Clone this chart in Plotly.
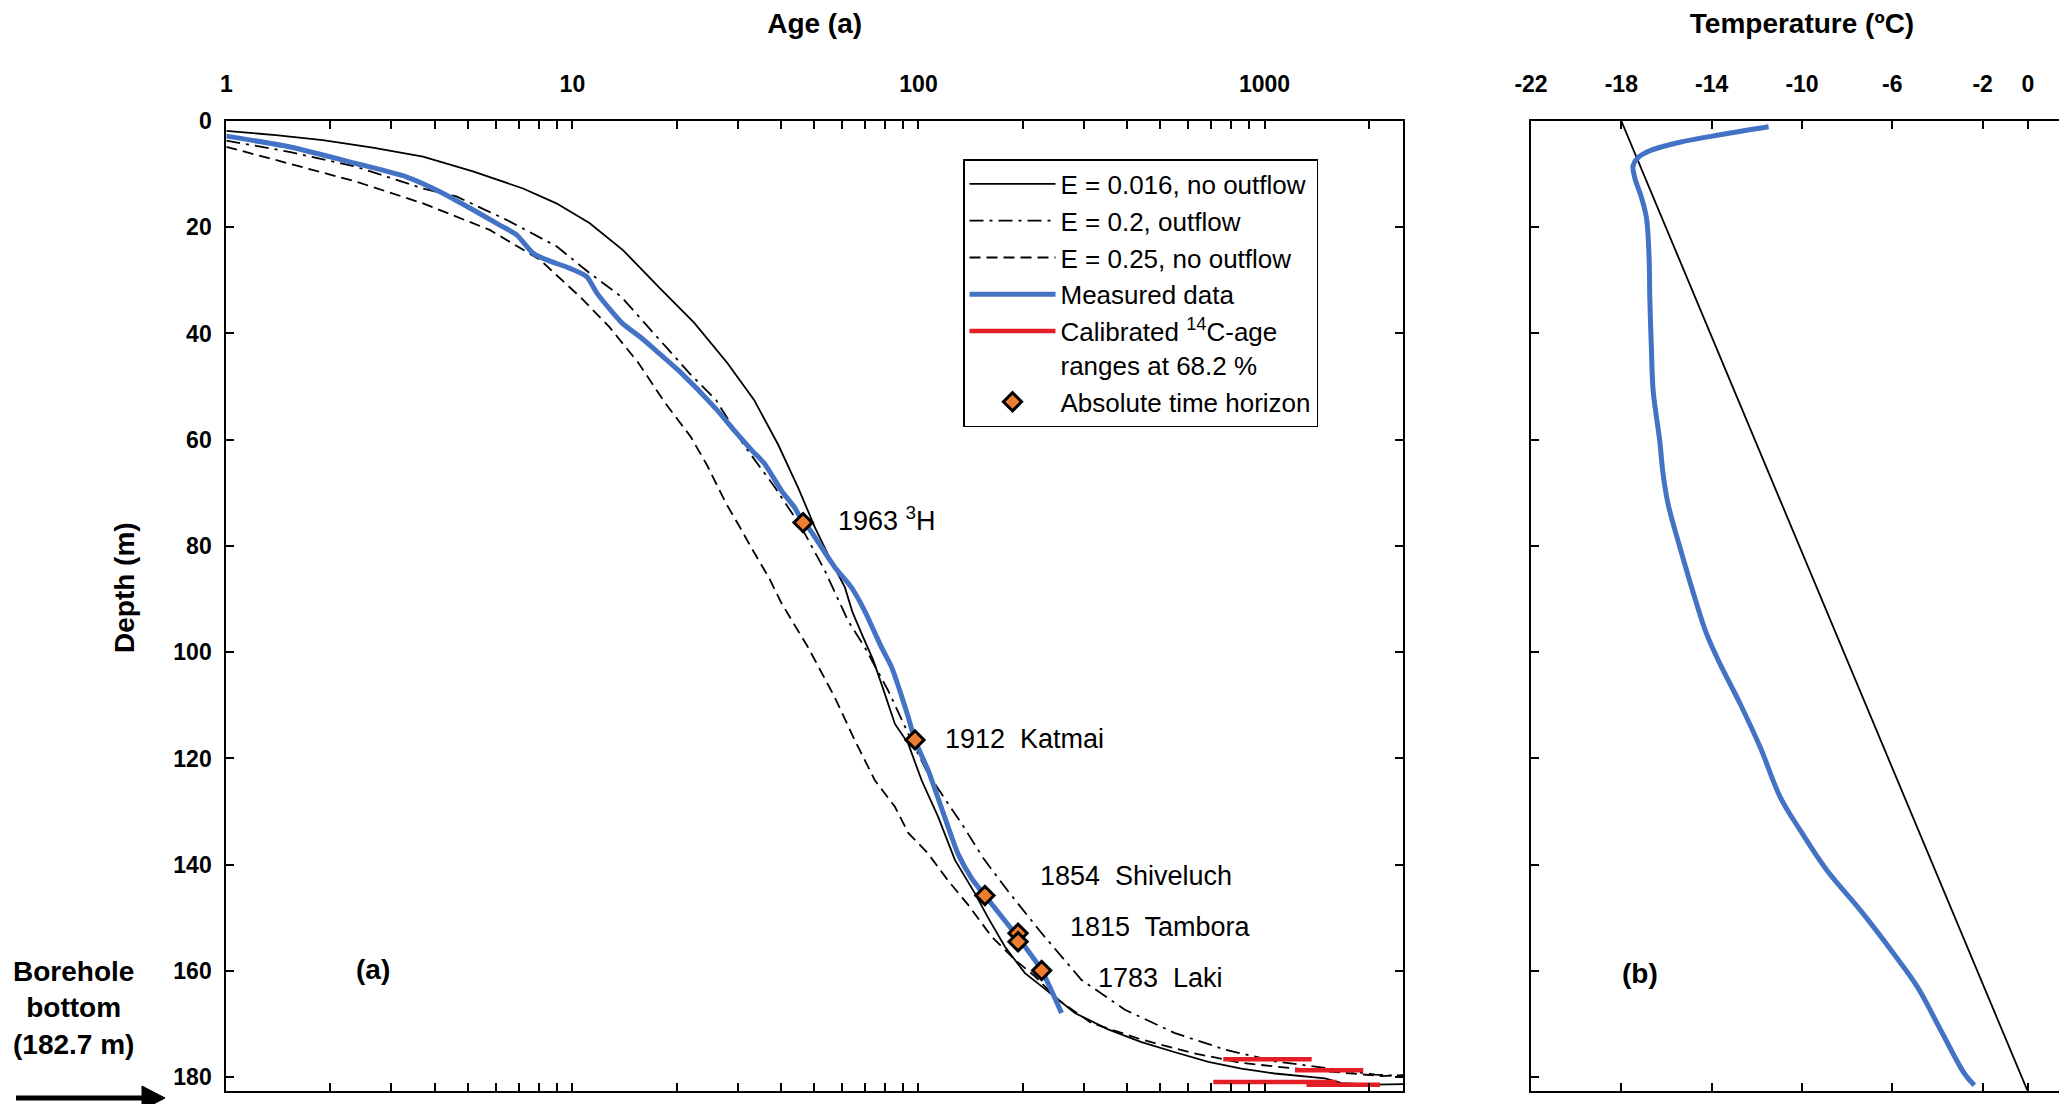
import numpy as np
import plotly.graph_objects as go

# ---------------- data ----------------
# Panel (a): age (a) vs depth (m)
e016_age = [1.0, 1.39, 1.90, 2.65, 3.70, 5.16, 7.2, 8.99, 11.2, 14.0, 17.8, 22.5, 28.0, 33.5, 39.3,
            44.9, 50.2, 56.1, 61.3, 64.5, 69.9, 74.0, 78.2, 85.5, 93.4, 102.1, 114.0, 127.4, 145.6,
            159.0, 177.6, 203.0, 227.0, 283.0, 353.0, 441.0, 551.0, 688.0, 857.0, 1071.0, 1495.0,
            1670.0, 2084.0, 2512.0]
e016_depth = [1.85, 2.66, 3.6, 5.0, 6.7, 9.5, 12.7, 15.5, 19.2, 24.3, 31.3, 38.0, 45.5, 52.5, 60.9,
              69.0, 76.5, 83.0, 87.8, 92.5, 97.8, 101.5, 106.0, 113.5, 117.2, 124.1, 131.0, 139.1, 145.4,
              150.0, 155.4, 160.4, 162.9, 167.9, 171.0, 173.4, 175.3, 177.1, 178.4, 179.3, 180.2,
              181.1, 181.4, 181.3]

e02_age = [1.0, 1.52, 2.37, 3.70, 4.62, 6.45, 9.0, 11.2, 13.8, 17.5, 21.8, 26.0, 31.3, 38.5, 45.9,
           53.7, 62.6, 70.0, 81.7, 93.4, 106.6, 134.0, 154.0, 181.6, 227.0, 296.0, 395.0, 551.0,
           769.0, 1071.0, 1495.0, 2084.0, 2512.0]
e02_depth = [3.7, 5.8, 8.6, 12.7, 14.2, 18.6, 23.6, 28.6, 33.0, 40.5, 47.5, 52.5, 61.0, 69.0, 76.5,
             84.7, 94.1, 99.1, 107.2, 115.3, 122.9, 132.5, 138.8, 145.0, 152.9, 161.7, 167.3, 171.7,
             174.8, 177.0, 178.3, 179.5, 179.8]

e025_age = [1.0, 1.52, 2.37, 3.70, 5.77, 8.05, 10.6, 12.8, 15.5, 18.5, 22.0, 24.5, 27.8, 30.5, 33.0,
            37.0, 40.0, 43.5, 48.0, 57.3, 65.5, 74.8, 85.5, 93.4, 106.6, 121.8, 139.0, 162.5, 190.0,
            217.0, 253.0, 316.0, 441.0, 615.0, 857.0, 1197.0, 1670.0, 2178.0, 2512.0]
e025_depth = [4.85, 8.0, 11.4, 15.5, 20.5, 26.1, 33.3, 38.8, 45.5, 53.0, 59.5, 64.8, 72.0, 76.5, 80.5,
              86.0, 90.5, 94.5, 99.1, 108.5, 116.6, 124.1, 129.1, 134.0, 137.9, 143.0, 147.5, 153.5,
              157.9, 161.0, 165.4, 169.8, 172.9, 175.4, 177.3, 178.3, 179.2, 179.8, 179.6]

meas_age = [1.0, 1.52, 2.37, 3.31, 4.14, 5.16, 6.17, 6.89, 7.7, 8.4, 9.8, 11.0, 11.8, 13.9, 15.8,
            17.5, 20.3, 26.0, 29.3, 33.0, 36.0, 40.2, 43.9, 46.4, 48.0, 57.3, 64.0, 69.9, 78.2, 83.6,
            93.4, 97.7, 106.6, 119.0, 130.2, 142.3, 155.6, 181.6, 194.0, 227.0, 259.0]
meas_depth = [2.85, 4.85, 8.0, 10.5, 13.3, 16.7, 19.6, 21.4, 24.9, 26.1, 27.7, 29.3, 32.5, 38.0, 40.8,
              43.3, 47.0, 54.2, 58.2, 62.0, 64.6, 69.6, 72.8, 75.6, 76.5, 84.0, 87.8, 92.2, 99.1, 102.8,
              112.2, 116.6, 122.2, 131.0, 138.0, 142.5, 145.8, 151.3, 153.7, 159.9, 167.9]

# Calibrated 14C-age ranges at 68.2 %
c14_min = [760, 1224, 711, 1322]
c14_max = [1368, 1928, 1615, 2154]
c14_depth = [176.6, 178.7, 180.9, 181.4]

# Absolute time horizons
horizon_age = [46.4, 97.7, 155.6, 194.0, 194.0, 227.0]
horizon_depth = [75.6, 116.5, 145.8, 152.9, 154.5, 159.9]
horizon_text = ["1963 <sup>3</sup>H", "1912  Katmai", "1854  Shiveluch", "1815  Tambora", "1783  Laki"]
label_age = [57.9, 117.8, 221.8, 271.0, 326.6]
label_depth = [74.9, 116.3, 142.2, 151.7, 161.4]

# Panel (b): temperature (degC) vs depth (m)
temp_val = [-11.48, -13.48, -15.41, -16.74, -17.26, -17.48, -17.41, -17.11, -16.89, -16.77, -16.74,
            -16.67, -16.59, -16.30, -16.15, -15.93, -15.41, -14.70, -14.22, -13.63, -12.74, -11.85,
            -10.96, -10.08, -8.89, -7.41, -5.93, -4.89, -3.85, -2.81, -2.37]
temp_depth = [1.1, 2.5, 4.0, 5.6, 6.9, 8.4, 10.6, 14.4, 18.2, 25.7, 33.2, 42.6, 50.8, 60.2, 66.5, 72.1,
              80.2, 90.4, 96.6, 102.2, 109.7, 117.9, 127.3, 133.5, 141.1, 148.6, 156.8, 163.0, 171.2,
              179.3, 181.5]
lin_temp = [-18.0, 0.0]
lin_depth = [0.0, 182.7]

age_ticks = [1, 10, 100, 1000]
age_minor = [2, 3, 4, 5, 6, 7, 8, 9, 20, 30, 40, 50, 60, 70, 80, 90,
             200, 300, 400, 500, 600, 700, 800, 900, 2000]
depth_ticks = [0, 20, 40, 60, 80, 100, 120, 140, 160, 180]
temp_ticks = [-22, -18, -14, -10, -6, -2, 0]

# ---------------- figure ----------------
FONT = "Liberation Sans, Arial, sans-serif"
BLUE = "#4472C4"
ORANGE = "#ED7D31"
RED = "#E41E26"
W, H = 2067, 1104

fig = go.Figure()

fig.add_trace(go.Scatter(x=e016_age, y=e016_depth, mode="lines", name="E = 0.016, no outflow",
                         line=dict(color="black", width=1.8), xaxis="x", yaxis="y"))
fig.add_trace(go.Scatter(x=e02_age, y=e02_depth, mode="lines", name="E = 0.2, outflow",
                         line=dict(color="black", width=1.8, dash="14px,6px,3px,6px"), xaxis="x", yaxis="y"))
fig.add_trace(go.Scatter(x=e025_age, y=e025_depth, mode="lines", name="E = 0.25, no outflow",
                         line=dict(color="black", width=1.8, dash="11px,6px"), xaxis="x", yaxis="y"))
fig.add_trace(go.Scatter(x=meas_age, y=meas_depth, mode="lines", name="Measured data",
                         line=dict(color=BLUE, width=5, shape="spline", smoothing=0.6),
                         xaxis="x", yaxis="y"))

bx, by = [], []
for a0, a1, d in zip(c14_min, c14_max, c14_depth):
    bx += [a0, a1, None]
    by += [d, d, None]
fig.add_trace(go.Scatter(x=bx, y=by, mode="lines",
                         name="Calibrated <sup>14</sup>C-age<br>ranges at 68.2 %",
                         line=dict(color=RED, width=4.5), xaxis="x", yaxis="y"))
fig.add_trace(go.Scatter(x=horizon_age, y=horizon_depth, mode="markers", name="Absolute time horizon",
                         marker=dict(symbol="diamond", size=14, color=ORANGE,
                                     line=dict(color="black", width=3)), xaxis="x", yaxis="y"))

fig.add_trace(go.Scatter(x=lin_temp, y=lin_depth, mode="lines", showlegend=False,
                         line=dict(color="black", width=1.8), xaxis="x2", yaxis="y2"))
fig.add_trace(go.Scatter(x=temp_val, y=temp_depth, mode="lines", showlegend=False,
                         line=dict(color=BLUE, width=5, shape="spline"), xaxis="x2", yaxis="y2"))

ydom = [21.5 / H, 991 / H]
axis_common = dict(showline=True, linecolor="black", linewidth=2, mirror="ticks",
                   ticks="inside", ticklen=8, tickwidth=2, tickcolor="black",
                   showgrid=False, zeroline=False, automargin=False)

fig.update_layout(
    width=W, height=H,
    margin=dict(l=0, r=0, t=0, b=0),
    template="none",
    paper_bgcolor="white", plot_bgcolor="white",
    font=dict(family=FONT, color="black"),
    xaxis=dict(type="log", range=[0, 3.4], domain=[218.3 / W, 1395 / W], side="top",
               anchor="y", tickvals=age_ticks, ticktext=[str(v) for v in age_ticks],
               tickfont=dict(size=23, weight="bold"), ticklabelstandoff=18,
               minor=dict(tickvals=age_minor, ticks="inside", ticklen=8, tickwidth=2, tickcolor="black"),
               title=dict(text="<b>Age (a)</b>", font=dict(size=28), standoff=34),
               **axis_common),
    yaxis=dict(range=[182.5, 0], domain=ydom, anchor="x", tickvals=depth_ticks,
               tickfont=dict(size=23, weight="bold"), ticklabelstandoff=8,
               **axis_common),
    xaxis2=dict(range=[-22, 2], domain=[1523 / W, 2065 / W], side="top", anchor="y2",
                tickvals=temp_ticks, ticktext=[str(v) for v in temp_ticks],
                tickfont=dict(size=23, weight="bold"), ticklabelstandoff=18,
                title=dict(text="<b>Temperature (ºC)</b>", font=dict(size=28), standoff=34),
                **axis_common),
    yaxis2=dict(range=[182.5, 0], domain=ydom, anchor="x2", tickvals=depth_ticks,
                showticklabels=False, **axis_common),
    legend=dict(x=955 / W, y=(H - 151) / H, xanchor="left", yanchor="top",
                bgcolor="white", bordercolor="black", borderwidth=1.5,
                font=dict(family=FONT, size=26, color="black"), itemwidth=86,
                tracegroupgap=0, valign="top"),
)

annotations = []
for txt, a, d in zip(horizon_text, label_age, label_depth):
    annotations.append(dict(x=np.log10(a), y=d, xref="x", yref="y", text=txt, showarrow=False,
                            xanchor="left", yanchor="middle", font=dict(size=27, family=FONT)))
annotations.append(dict(x=np.log10(2.65), y=159.8, xref="x", yref="y", text="<b>(a)</b>",
                        showarrow=False, font=dict(size=28, family=FONT)))
annotations.append(dict(x=-17.19, y=160.5, xref="x2", yref="y2", text="<b>(b)</b>",
                        showarrow=False, font=dict(size=28, family=FONT)))
annotations.append(dict(x=116 / W, y=(H - 580) / H, xref="paper", yref="paper",
                        text="<b>Depth (m)</b>", textangle=-90, showarrow=False,
                        xanchor="center", yanchor="middle", font=dict(size=28, family=FONT)))
annotations.append(dict(x=65 / W, y=(H - 1000) / H, xref="paper", yref="paper",
                        text="<b>Borehole<br>bottom<br>(182.7 m)</b>", showarrow=False, align="center",
                        xanchor="center", yanchor="middle", font=dict(size=28, family=FONT)))
fig.update_layout(annotations=annotations)

# arrow pointing at the borehole bottom (decoration, paper coordinates)
ay = (H - 1090) / H
fig.add_shape(type="line", xref="paper", yref="paper", x0=8 / W, x1=140 / W, y0=ay, y1=ay,
              line=dict(color="black", width=5))
fig.add_shape(type="path", xref="paper", yref="paper",
              path=f"M {134 / W},{(H - 1078) / H} L {157 / W},{ay} L {134 / W},{(H - 1102) / H} Z",
              fillcolor="black", line=dict(color="black", width=1))

fig.write_html("out.html")
